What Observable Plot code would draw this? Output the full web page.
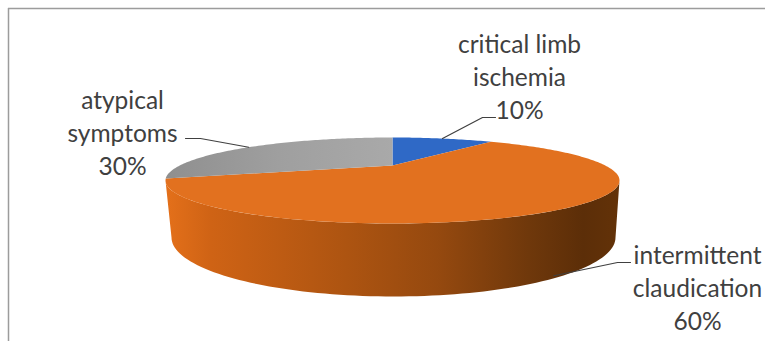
<!DOCTYPE html>
<html>
<head>
<meta charset="utf-8">
<style>html,body{margin:0;padding:0;background:#fff}</style>
<script src="https://cdn.jsdelivr.net/npm/d3@7"></script>
<script src="https://cdn.jsdelivr.net/npm/@observablehq/plot@0.6"></script>
</head>
<body>
<div id="chart"></div>
<script>
// Clinical presentation shares, clockwise from twelve o'clock.
const categories = ["critical limb\nischemia", "intermittent\nclaudication", "atypical\nsymptoms"];
const shares = [10, 60, 30];
const sliceColors = ["#2f69c6", "#e2711f", "url(#grayFace)"];

// Tilted-disc layout in plot units.
const hub = {x: 392, y: 165};
const upperRim = {x: 392, y: 180, rx: 227, ry: 43};
const lowerRim = {x: 393, y: 237, rx: 222, ry: 59};
const squash = 0.175;

// Where the ray leaving the hub at a given pie angle meets the upper rim.
function rimPoint(deg) {
  const a = deg * Math.PI / 180;
  const dx = Math.sin(a), dy = -Math.cos(a) * squash;
  const ox = hub.x - upperRim.x, oy = hub.y - upperRim.y;
  const A = (dx / upperRim.rx) ** 2 + (dy / upperRim.ry) ** 2;
  const B = 2 * (ox * dx / upperRim.rx ** 2 + oy * dy / upperRim.ry ** 2);
  const C = (ox / upperRim.rx) ** 2 + (oy / upperRim.ry) ** 2 - 1;
  const t = (-B + Math.sqrt(B * B - 4 * A * C)) / (2 * A);
  return {x: hub.x + t * dx, y: hub.y + t * dy};
}

// Cumulative angles for each slice.
let running = 0;
const slices = categories.map((name, i) => {
  const start = running * 3.6;
  running += shares[i];
  return {name, share: shares[i], start, end: running * 3.6, mid: (start + running * 3.6) / 2, fill: sliceColors[i]};
});

const wedge = (s) => [hub, ...d3.range(s.start, s.end + 0.5, 1).map(rimPoint), hub];

// Visible wall: the near half of the upper rim, back along the near half of the lower rim.
const sweep = d3.range(0, 181, 2).map((d) => d * Math.PI / 180);
const wall = [
  ...sweep.map((a) => ({x: upperRim.x + upperRim.rx * Math.cos(a), y: upperRim.y + upperRim.ry * Math.sin(a)})),
  ...sweep.slice().reverse().map((a) => ({x: lowerRim.x + lowerRim.rx * Math.cos(a), y: lowerRim.y + lowerRim.ry * Math.sin(a)}))
];

// Callouts start on the rim at each slice's middle angle.
const depthAtRim = 68;
const anchors = slices.map((s) => {
  const p = rimPoint(s.mid);
  return s.mid > 90 && s.mid < 270 ? {x: p.x - 14, y: p.y + depthAtRim} : p;
});
const elbows = [[{x: 482, y: 117}, {x: 495, y: 117}], [{x: 617, y: 262}, {x: 630, y: 262}], [{x: 200, y: 138}, {x: 185, y: 138}]];
const leaders = slices.flatMap((s, i) => [anchors[i], ...elbows[i]].map((p) => ({...p, key: s.name})));

const labelCenters = [{x: 519, y: 75}, {x: 697, y: 286}, {x: 122, y: 131}];
const labels = slices.map((s, i) => ({...labelCenters[i], text: `${s.name}\n${s.share}%`}));

// Shared gradients for the wall and the gray slice.
function gradients() {
  const defs = d3.create("svg:defs");
  const stops = (id, list) => {
    const g = defs.append("linearGradient").attr("id", id).attr("gradientUnits", "objectBoundingBox");
    list.forEach(([o, c]) => g.append("stop").attr("offset", o).attr("stop-color", c));
  };
  stops("wallShade", [[0, "#e4701a"], [0.1, "#cf6315"], [0.4, "#ad5411"], [0.6, "#95490f"], [0.8, "#6f380b"], [0.92, "#5c2e08"], [1, "#633208"]]);
  stops("grayFace", [[0, "#8f8f8f"], [0.5, "#9f9f9f"], [1, "#a9a9a9"]]);
  return defs.node();
}

const plot = Plot.plot({
  width: 765,
  height: 341,
  margin: 0,
  style: {background: "#fff"},
  x: {domain: [0, 765], range: [0, 765], axis: null},
  y: {domain: [0, 341], range: [0, 341], axis: null},
  marks: [
    gradients,
    Plot.ruleX([8], {y1: 8, y2: 341, stroke: "#9c9c9c", strokeWidth: 1.5}),
    Plot.ruleY([8], {x1: 8, x2: 765, stroke: "#9c9c9c", strokeWidth: 1.5}),
    Plot.line(wall, {x: "x", y: "y", fill: "url(#wallShade)", stroke: "none"}),
    slices.map((s) => Plot.line(wedge(s), {x: "x", y: "y", fill: s.fill, stroke: "none"})),
    Plot.line(leaders, {x: "x", y: "y", z: "key", stroke: "#404040", strokeWidth: 1.2, curve: "linear"}),
    Plot.text(labels, {x: "x", y: "y", text: "text", fontFamily: "Lato", fontSize: 24.5, lineHeight: 1.35, fill: "#404040", textAnchor: "middle"})
  ]
});
document.getElementById("chart").appendChild(plot);
</script>
</body>
</html>
